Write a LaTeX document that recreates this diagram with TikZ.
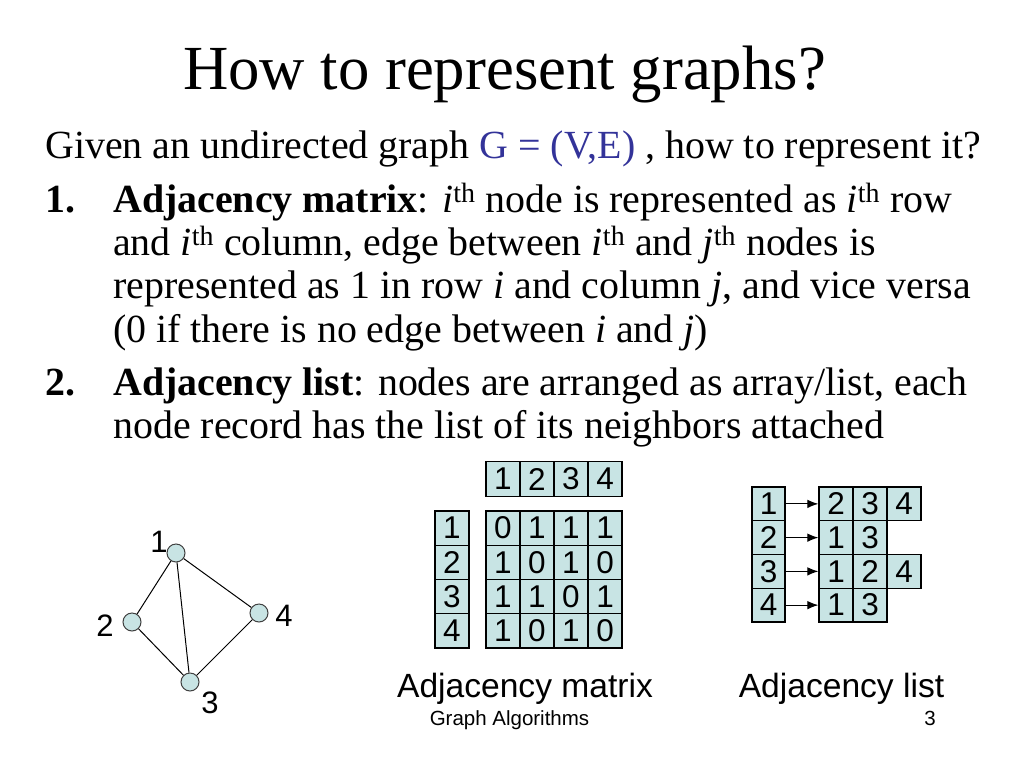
\documentclass[tikz,border=0pt]{standalone}
\usepackage{fontspec}
\setmainfont{Liberation Serif}
\newfontfamily\arialf{Liberation Sans}
\usetikzlibrary{arrows.meta}
\definecolor{cellfill}{RGB}{200,228,228}
\definecolor{gblue}{RGB}{51,51,153}
\tikzset{
  body/.style={anchor=base west, inner sep=0pt, font=\fontsize{39.9}{43}\selectfont},
  cell/.style={draw, fill=cellfill, line width=1.2pt, inner sep=0pt, minimum width=34pt, minimum height=34.25pt, font=\arialf\fontsize{31.5}{36}\selectfont},
  lcell/.style={cell, minimum width=33pt, minimum height=33.75pt},
  vtx/.style={circle, draw=black!75, fill=cellfill, line width=1pt, minimum size=18pt, inner sep=0pt},
  vlab/.style={inner sep=0pt, font=\arialf\fontsize{31}{36}\selectfont},
  edge/.style={line width=1pt},
  arr/.style={-{Latex[length=11pt,width=8.5pt]}, line width=1.1pt},
  caption/.style={anchor=base, inner sep=0pt, font=\arialf\fontsize{33.6}{40}\selectfont},
  foot/.style={anchor=base, inner sep=0pt, font=\arialf\fontsize{20.5}{24}\selectfont}
}
\begin{document}
\begin{tikzpicture}[x=1pt,y=-1pt]
\useasboundingbox (0,0) rectangle (1024,768);
% title
\node[anchor=base, inner sep=0pt, font=\fontsize{62.75}{70}\selectfont] (title) at (504.5,89) {How to represent graphs?};
% body text
\node[body] (l1) at (45,158) {Given an undirected graph {\color{gblue}G = (V,E)} , how to represent it?};
\node[body] (n1) at (45,212) {\textbf{1.}};
\node[body] (l2) at (113,212) {\textbf{Adjacency matrix}: \textit{i}\textsuperscript{th} node is represented as \textit{i}\textsuperscript{th} row};
\node[body] (l3) at (113,255) {and \textit{i}\textsuperscript{th} column, edge between \textit{i}\textsuperscript{th} and \textit{j}\textsuperscript{th} nodes is};
\node[body] (l4) at (113,298) {represented as 1 in row \textit{i} and column \textit{j}, and vice versa};
\node[body] (l5) at (113,342) {(0 if there is no edge between \textit{i} and \textit{j})};
\node[body] (n2) at (45,395) {\textbf{2.}};
\node[body] (l6) at (113,395) {\textbf{Adjacency list}: nodes are arranged as array/list, each};
\node[body] (l7) at (113,438) {node record has the list of its neighbors attached};
% graph
\node[vtx] (v1) at (176,553) {};
\node[vtx] (v2) at (132,622) {};
\node[vtx] (v4) at (259,613) {};
\node[vtx] (v3) at (190,682) {};
\draw[edge] (v1) -- (v2);
\draw[edge] (v1) -- (v3);
\draw[edge] (v1) -- (v4);
\draw[edge] (v2) -- (v3);
\draw[edge] (v4) -- (v3);
\node[vlab] (t1) at (159,542) {1};
\node[vlab] (t2) at (105,626) {2};
\node[vlab] (t4) at (284,616) {4};
\node[vlab] (t3) at (210,703) {3};
% adjacency matrix
\foreach \k/\v in {1/1,2/2,3/3,4/4}{
  \node[cell] (h\k) at ({503+34*(\k-1)},479) {\v};
  \node[cell] (r\k) at (452,{528.125+34.25*(\k-1)}) {\v};
}
\foreach \r/\row in {1/{0,1,1,1},2/{1,0,1,0},3/{1,1,0,1},4/{1,0,1,0}}{
  \foreach \v [count=\c] in \row {
    \node[cell] (m\r\c) at ({503+34*(\c-1)},{528.125+34.25*(\r-1)}) {\v};
  }
}
\node[caption] (capm) at (525,697) {Adjacency matrix};
% adjacency list
\foreach \k in {1,2,3,4}{
  \node[lcell] (a\k) at (768.5,{503.875+33.75*(\k-1)}) {\k};
}
\foreach \r/\row in {1/{2,3,4},2/{1,3},3/{1,2,4},4/{1,3}}{
  \foreach \v [count=\c] in \row {
    \node[cell, minimum height=33.75pt] (b\r\c) at ({836+34*(\c-1)},{503.875+33.75*(\r-1)}) {\v};
  }
}
\foreach \k in {1,2,3,4}{
  \draw[arr] (a\k.east) -- (b\k1.west);
}
\node[caption] (capl) at (841.5,697) {Adjacency list};
% footer
\node[foot] (ft) at (509.5,725) {Graph Algorithms};
\node[foot] (pg) at (930,725) {3};
\end{tikzpicture}
\end{document}
